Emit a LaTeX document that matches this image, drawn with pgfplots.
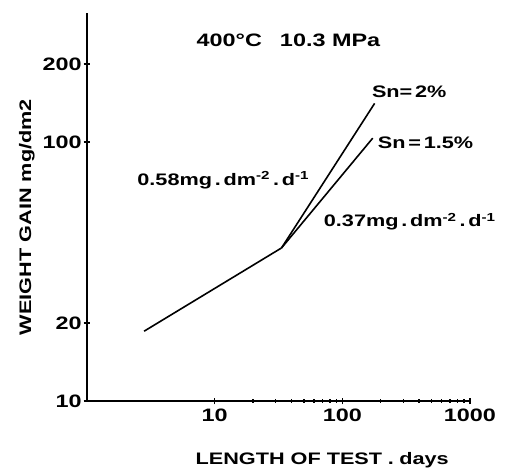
\documentclass[border=0pt]{standalone}
\usepackage{pgfplots}
\pgfplotsset{compat=1.18}
\usepackage{fontspec}
\setmainfont{Liberation Sans}[FakeStretch=1.3]
\newcommand\lbl{\bfseries\fontsize{12.5}{15}\selectfont}
\newcommand\tlbl{\bfseries\fontsize{13.5}{16}\selectfont}
\begin{document}
\begin{tikzpicture}
\useasboundingbox (-65.25pt,-53.25pt) rectangle (315pt,300.75pt);
\begin{axis}[
  at={(0pt,0pt)}, anchor=south west,
  scale only axis, width=287.25pt, height=291pt,
  xmode=log, ymode=log,
  xmin=1, xmax=1000, ymin=10, ymax=315,
  axis x line=bottom, axis y line=left,
  axis line style={-, line width=1.6pt},
  xtick={10,100,1000}, xticklabels={10,100,1000},
  ytick={10,20,100,200}, yticklabels={10,20,100,200},
  minor xtick={}, minor ytick={},
  tick align=center, major tick length=5pt,
  tick style={line width=1.1pt, black},
  ticklabel style={font=\tlbl},
  yticklabel style={xshift=2pt},
  xlabel={LENGTH OF TEST\,\,.\,\,days},
  ylabel={WEIGHT GAIN mg/dm2},
  label style={font=\lbl},
  xlabel style={at={(axis description cs:0.614,-0.152)}, anchor=center},
  ylabel style={at={(axis description cs:-0.157,0.474)}, anchor=center},
  clip=false,
  rate/.style={black, line width=1.2pt, mark=none},
]
% common early-stage kinetics
\addplot[rate] coordinates {(2.8,18.6) (33.4,39)};
% Sn = 2 %
\addplot[rate] coordinates {(33.4,39) (179,141)};
% Sn = 1.5 %
\addplot[rate] coordinates {(33.4,39) (173,103.5)};

\node[anchor=base west, inner sep=0pt, font=\tlbl] at (axis cs:7.2,233) {400°C\quad 10.3 MPa};
\node[anchor=base west, inner sep=0pt, font=\lbl] at (axis cs:170,148) {Sn=\,2\%};
\node[anchor=base west, inner sep=0pt, font=\lbl] at (axis cs:189,94.8) {Sn\,=\,1.5\%};
\node[anchor=base west, inner sep=0pt, font=\lbl] at (axis cs:2.47,68.2)
  {0.58mg\,.\,dm\textsuperscript{-2}\,.\,d\textsuperscript{-1}};
\node[anchor=base west, inner sep=0pt, font=\lbl] at (axis cs:71.4,47)
  {0.37mg\,.\,dm\textsuperscript{-2}\,.\,d\textsuperscript{-1}};
\end{axis}
\end{tikzpicture}
\end{document}
